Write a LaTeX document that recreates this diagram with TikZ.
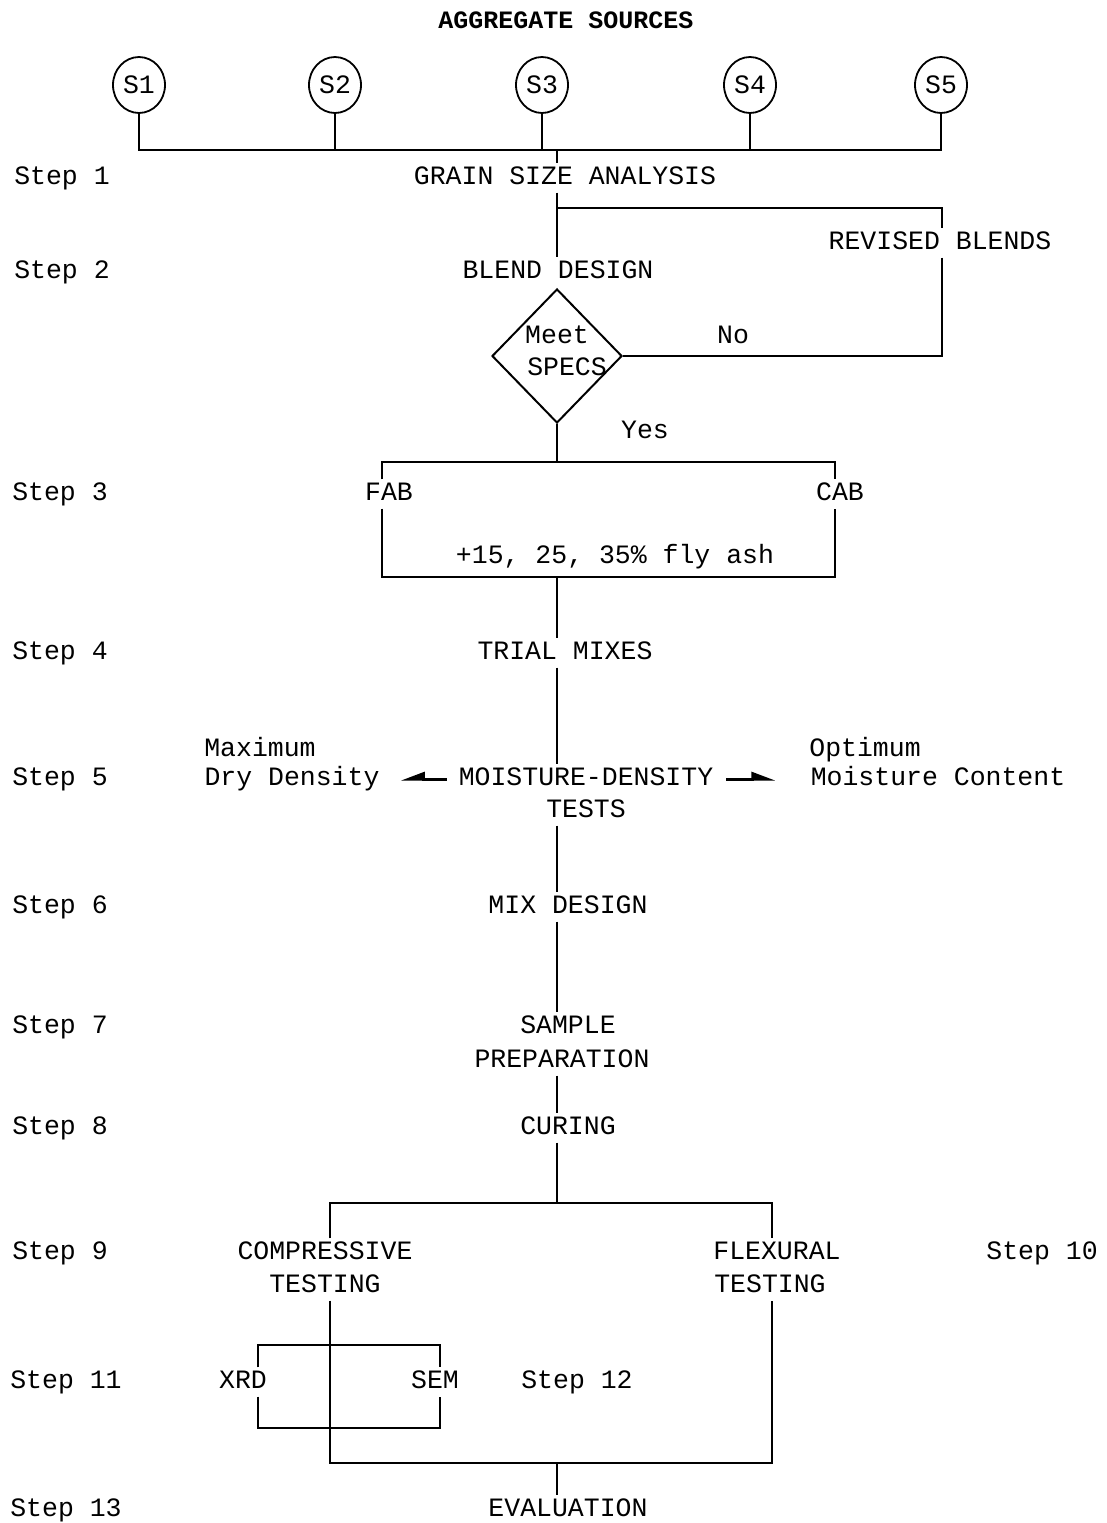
\documentclass[tikz,border=0pt]{standalone}
\usepackage{fontspec}
\newfontfamily\tw{Liberation Mono}
\usetikzlibrary{shapes.geometric,arrows.meta}
\begin{document}
\begin{tikzpicture}[x=1pt,y=-1pt,
  lbl/.style={font=\tw\fontsize{26.5}{32}\selectfont, inner sep=3pt, text height=18pt, text depth=5pt},
  ttl/.style={lbl, font=\tw\bfseries\fontsize{25}{30}\selectfont},
  src/.style={draw, ellipse, line width=1.8pt, minimum width=52pt, minimum height=56pt, inner sep=0pt, font=\tw\fontsize{26.5}{32}\selectfont},
  ln/.style={line width=2pt},
  harpl/.style={line width=3pt, -{Triangle[harpoon, swap, length=20pt, width=14pt]}},
  harpr/.style={line width=3pt, -{Triangle[harpoon, length=20pt, width=14pt]}}]
\useasboundingbox (0,0) rectangle (1106,1523);
\fill[white] (0,0) rectangle (1106,1523);
\coordinate (mx) at (557,0);

% title and sources
\node[ttl] (title) at (566,22) {AGGREGATE SOURCES};
\node[src] (s1) at (139,85) {S1};
\node[src] (s2) at (335,85) {S2};
\node[src] (s3) at (542,85) {S3};
\node[src] (s4) at (750,85) {S4};
\node[src] (s5) at (941,85) {S5};
\coordinate (bus) at (0,150);
\draw[ln] (s1) -- (s1 |- bus) -- (s5 |- bus) -- (s5);
\draw[ln] (s2) -- (s2 |- bus);
\draw[ln] (s3) -- (s3 |- bus);
\draw[ln] (s4) -- (s4 |- bus);

% steps
\node[lbl] (st1) at (62,178) {Step 1};
\node[lbl] (st2) at (62,272) {Step 2};
\node[lbl] (st3) at (60,494) {Step 3};
\node[lbl] (st4) at (60,653) {Step 4};
\node[lbl] (st5) at (60,779) {Step 5};
\node[lbl] (st6) at (60,907) {Step 6};
\node[lbl] (st7) at (60,1027) {Step 7};
\node[lbl] (st8) at (60,1128) {Step 8};
\node[lbl] (st9) at (60,1253) {Step 9};
\node[lbl] (st10) at (1042,1253) {Step 10};
\node[lbl] (st11) at (66,1382) {Step 11};
\node[lbl] (st12) at (577,1382) {Step 12};
\node[lbl] (st13) at (66,1510) {Step 13};

% grain size and blend
\node[lbl] (grain) at (565,178) {GRAIN SIZE ANALYSIS};
\draw[ln] (mx |- bus) -- (mx |- grain.north);
\node[lbl] (blend) at (558,272) {BLEND DESIGN};
\draw[ln] (mx |- grain.south) -- (mx |- blend.north);
\node[lbl] (revised) at (940,243) {REVISED BLENDS};
\coordinate (r1) at (942,208);
\draw[ln] (mx |- r1) -- (r1) -- (r1 |- revised.north);

% decision
\node[draw, diamond, line width=2pt, minimum width=130pt, minimum height=134pt, inner sep=0pt] (spec) at (557,356) {};
\node[lbl] (meet) at (557,337) {Meet};
\node[lbl] (specs) at (567,369) {SPECS};
\draw[ln] (r1 |- revised.south) -- (r1 |- spec.east) -- (spec.east);
\node[lbl] (no) at (733,337) {No};
\node[lbl] (yes) at (645,432) {Yes};

% FAB / CAB
\node[lbl] (fab) at (389,494) {FAB};
\node[lbl] (cab) at (840,494) {CAB};
\coordinate (b1) at (382,462);
\coordinate (b2) at (835,462);
\coordinate (c1) at (382,577);
\coordinate (c2) at (835,577);
\draw[ln] (spec.south) -- (spec.south |- b1);
\draw[ln] (fab.north -| b1) -- (b1) -- (b2) -- (cab.north -| b2);
\draw[ln] (fab.south -| c1) -- (c1) -- (c2) -- (cab.south -| c2);
\node[lbl] (fly) at (615,557) {+15, 25, 35\% fly ash};

% trial mixes and moisture-density
\node[lbl] (trial) at (565,653) {TRIAL MIXES};
\draw[ln] (mx |- c1) -- (mx |- trial.north);
\node[lbl] (md1) at (586,779) {MOISTURE-DENSITY};
\node[lbl] (md2) at (586,811) {TESTS};
\draw[ln] (mx |- trial.south) -- (mx |- md1.north);
\node[lbl] (maxim) at (260,750) {Maximum};
\node[lbl] (dry) at (292,779) {Dry Density};
\node[lbl] (optim) at (865,750) {Optimum};
\node[lbl] (moist) at (938,779) {Moisture Content};
\draw[harpl, shorten <=9pt, shorten >=18pt] (md1.west) -- (dry.east);
\draw[harpr, shorten <=10pt, shorten >=32pt] (md1.east) -- (moist.west);

% mix design to curing
\node[lbl] (mix) at (568,907) {MIX DESIGN};
\draw[ln] (mx |- md2.south) -- (mx |- mix.north);
\node[lbl] (sample) at (568,1027) {SAMPLE};
\node[lbl] (prep) at (562,1061) {PREPARATION};
\draw[ln] (mx |- mix.south) -- (mx |- sample.north);
\node[lbl] (curing) at (568,1128) {CURING};
\draw[ln] (mx |- prep.south) -- (mx |- curing.north);

% testing
\coordinate (d1) at (330,1203);
\coordinate (d2) at (772,1203);
\node[lbl] (comp1) at (325,1253) {COMPRESSIVE};
\node[lbl] (comp2) at (325,1286) {TESTING};
\node[lbl] (flex1) at (777,1253) {FLEXURAL};
\node[lbl] (flex2) at (770,1286) {TESTING};
\draw[ln] (mx |- curing.south) -- (mx |- d1);
\draw[ln] (comp1.north -| d1) -- (d1) -- (d2) -- (flex1.north -| d2);
\coordinate (e1) at (330,1463);
\coordinate (e2) at (772,1463);
\draw[ln] (comp2.south -| e1) -- (e1) -- (e2) -- (flex2.south -| e2);

% XRD / SEM
\node[lbl] (xrd) at (243,1382) {XRD};
\node[lbl] (sem) at (435,1382) {SEM};
\coordinate (x1) at (258,1345);
\coordinate (x2) at (440,1345);
\coordinate (x3) at (258,1428);
\coordinate (x4) at (440,1428);
\draw[ln] (xrd.north -| x1) -- (x1) -- (x2) -- (sem.north -| x2);
\draw[ln] (xrd.south -| x3) -- (x3) -- (x4) -- (sem.south -| x4);

% evaluation
\node[lbl] (eval) at (568,1510) {EVALUATION};
\draw[ln] (mx |- e1) -- (mx |- eval.north);
\end{tikzpicture}
\end{document}
